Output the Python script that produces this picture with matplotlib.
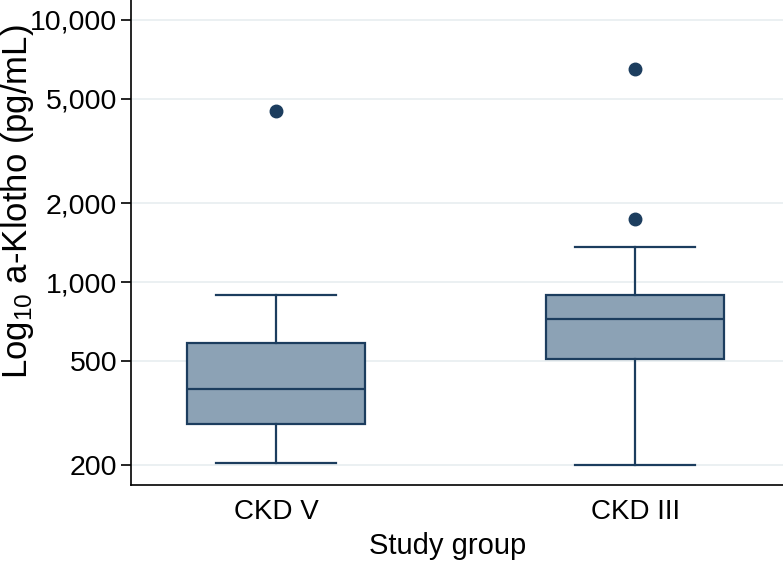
import numpy as np
import matplotlib.pyplot as plt
from matplotlib.ticker import FixedLocator, FuncFormatter

plt.rcParams['font.family'] = ['Liberation Sans', 'DejaVu Sans']
plt.rcParams['mathtext.fontset'] = 'custom'
plt.rcParams['mathtext.rm'] = 'Liberation Sans'
plt.rcParams['mathtext.it'] = 'Liberation Sans'

groups = ['CKD V', 'CKD III']
whisker_low = [204, 200]
q1 = [288, 507]
median = [391, 724]
q3 = [587, 889]
whisker_high = [889, 1365]
outliers = [[4500], [1734, 6505]]

yticks = [200, 500, 1000, 2000, 5000, 10000]

stats = []
for i, g in enumerate(groups):
    stats.append(dict(label=g, whislo=whisker_low[i], q1=q1[i], med=median[i],
                      q3=q3[i], whishi=whisker_high[i], fliers=outliers[i]))

navy = '#1c3d5e'
fig = plt.figure(figsize=(7.83, 5.65), dpi=100)
ax = fig.add_axes([131/783, 80/565, 652/783, 485/565])

ax.bxp(stats, positions=[1, 2], widths=0.496, patch_artist=True,
       boxprops=dict(facecolor='#8ca2b5', edgecolor=navy, linewidth=1.6),
       medianprops=dict(color=navy, linewidth=1.6),
       whiskerprops=dict(color=navy, linewidth=1.6),
       capprops=dict(color=navy, linewidth=1.6),
       capwidths=0.334,
       flierprops=dict(marker='o', markerfacecolor=navy, markeredgecolor=navy, markersize=9))

ax.set_yscale('log')
ax.set_ylim(168, 11920)
ax.set_xlim(0.596, 2.412)
ax.yaxis.set_major_locator(FixedLocator(yticks))
ax.yaxis.set_minor_locator(FixedLocator([]))
ax.yaxis.set_major_formatter(FuncFormatter(lambda v, p: f'{int(v):,}'))
ax.grid(axis='y', color='#e8eef0', linewidth=1.2)
ax.set_axisbelow(True)

for s in ['top', 'right']:
    ax.spines[s].set_visible(False)
ax.spines['left'].set_linewidth(1.2)
ax.spines['bottom'].set_linewidth(1.2)

ax.tick_params(axis='y', labelsize=20.5, length=7, width=1.2, pad=3)
ax.tick_params(axis='x', labelsize=20, length=0, pad=10)
ax.set_xticks([1, 2])
ax.set_xticklabels(groups)

# axis titles placed by hand to sit where the reference has them
fig.text(448/783, 1 - 546/565, 'Study group', fontsize=21, ha='center', va='center')
fig.text(18/783, 1 - 202/565, 'Log$_{10}$ a-Klotho (pg/mL)', fontsize=25,
         rotation=90, ha='center', va='center')

fig.savefig('out.png', dpi=100)
